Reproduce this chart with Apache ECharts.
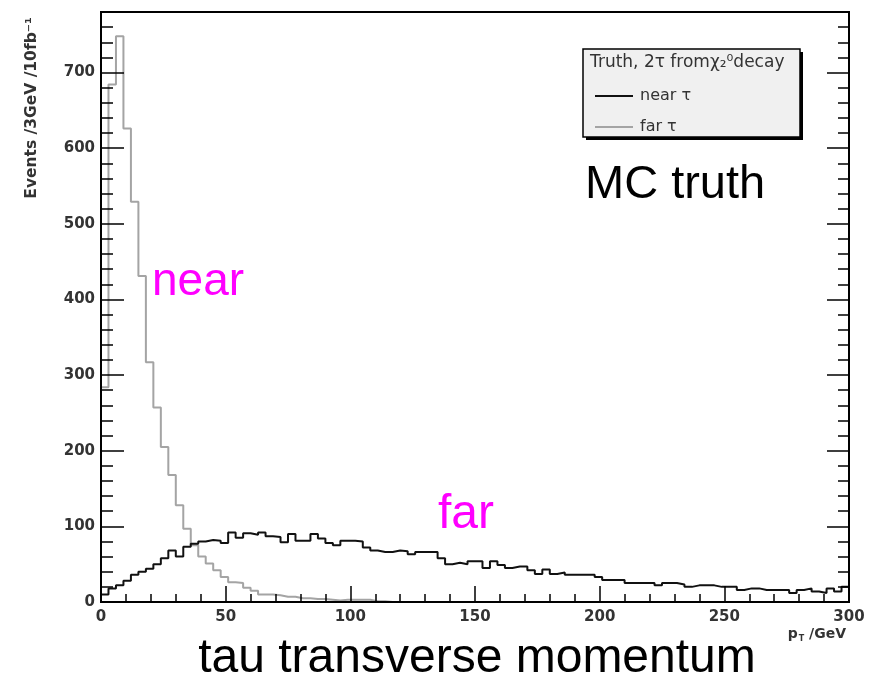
<!DOCTYPE html>
<html>
<head>
<meta charset="utf-8">
<title>tau transverse momentum</title>
<script src="https://cdn.jsdelivr.net/npm/echarts@6/dist/echarts.min.js"></script>
<style>
  html, body { margin: 0; padding: 0; background: #fff; }
  #main { width: 869px; height: 679px; }
</style>
</head>
<body>
<div id="main"></div>
<script>
// 100 bins of 3 GeV, 0 - 300 GeV
const binWidth = 3
// black histogram (legend: near tau)
const nearCounts = [
  10, 18, 22, 28, 36, 40, 44, 50, 58, 68,
  60, 73, 77, 80, 82, 81, 78, 92, 85, 91,
  89, 92, 87, 86, 79, 90, 81, 81, 90, 84,
  78, 75, 81, 81, 80, 72, 68, 66, 66, 68,
  67, 63, 66, 66, 66, 58, 50, 52, 50, 54,
  54, 45, 54, 49, 45, 47, 47, 42, 37, 43,
  37, 39, 36, 36, 36, 36, 33, 29, 29, 29,
  25, 25, 25, 25, 22, 25, 25, 23, 20, 22,
  22, 22, 20, 20, 20, 16, 18, 18, 16, 16,
  16, 16, 12, 16, 18, 14, 12, 18, 14, 20
]
// grey histogram (legend: far tau)
const farCounts = [
  284, 684, 748, 626, 529, 431, 317, 257, 205, 168,
  128, 97, 75, 60, 51, 42, 33, 26, 25, 19,
  15, 10, 10, 9, 7, 7, 5, 5, 4, 4,
  3, 2, 3, 3, 3, 3, 1, 1, 0, 0,
  0, 0, 0, 0, 0, 0, 0, 0, 0, 0,
  0, 0, 0, 0, 0, 0, 0, 0, 0, 0,
  0, 0, 0, 0, 0, 0, 0, 0, 0, 0,
  0, 0, 0, 0, 0, 0, 0, 0, 0, 0,
  0, 0, 0, 0, 0, 0, 0, 0, 0, 0,
  0, 0, 0, 0, 0, 0, 0, 0, 0, 0
]
const seriesNames = ['near τ', 'far τ']

// points at the left bin edges, plus the closing edge
function stepData(counts) {
  let pts = counts.map((v, i) => [i * binWidth, v])
  pts.push([counts.length * binWidth, counts[counts.length - 1]])
  return pts
}

const tickFont = { fontFamily: 'DejaVu Sans', fontWeight: 'bold', fontSize: 15, color: '#333' }
const black = { color: '#000', width: 1.5 }

let chart = echarts.init(document.getElementById('main'), null, { renderer: 'canvas' })

let option = {
  animation: false,
  backgroundColor: '#fff',
  grid: {
    left: 101, right: 20, top: 12, bottom: 77,
    show: true, borderColor: '#000', borderWidth: 2,
    outerBoundsMode: 'none'
  },
  legend: {
    data: seriesNames,
    orient: 'vertical',
    left: 590, top: 83,
    itemWidth: 38, itemHeight: 2, itemGap: 15,
    icon: 'rect',
    selectedMode: false,
    z: 10,
    textStyle: { fontFamily: 'DejaVu Sans', fontSize: 16, color: '#333', padding: [0, 0, 0, 2] }
  },
  xAxis: [{
    type: 'value', min: 0, max: 300, interval: 50, position: 'bottom', z: 5,
    axisLine: { lineStyle: { color: '#000', width: 2 } },
    axisTick: { inside: true, length: 16, lineStyle: black },
    minorTick: { show: true, splitNumber: 5, length: 8, lineStyle: black },
    splitLine: { show: false },
    axisLabel: Object.assign({ margin: 8 }, tickFont)
  }],
  yAxis: [
    { // major ticks + labels
      type: 'value', min: 0, max: 780, interval: 100, position: 'left', z: 5,
      axisLine: { show: true, lineStyle: { color: '#000', width: 2 } },
      axisTick: { inside: true, length: 23, lineStyle: black },
      splitLine: { show: false },
      axisLabel: Object.assign({ margin: 6, showMaxLabel: false }, tickFont)
    },
    { // minor ticks
      type: 'value', min: 0, max: 780, interval: 20, position: 'left', z: 5,
      axisLine: { show: false },
      axisTick: { inside: true, length: 12, lineStyle: black },
      splitLine: { show: false },
      axisLabel: { show: false }
    },
    { // right side ticks
      type: 'value', min: 0, max: 780, interval: 100, position: 'right', z: 5,
      axisLine: { show: true, lineStyle: { color: '#000', width: 2 } },
      axisTick: { inside: true, length: 22, lineStyle: black },
      splitLine: { show: false },
      axisLabel: { show: false }
    },
    {
      type: 'value', min: 0, max: 780, interval: 20, position: 'right', z: 5,
      axisLine: { show: false },
      axisTick: { inside: true, length: 11, lineStyle: black },
      splitLine: { show: false },
      axisLabel: { show: false }
    }
  ],
  series: [
    {
      name: seriesNames[0],
      type: 'line',
      step: 'end',
      showSymbol: false,
      z: 3,
      itemStyle: { color: '#111' },
      lineStyle: { color: '#111', width: 2 },
      data: stepData(nearCounts)
    },
    {
      name: seriesNames[1],
      type: 'line',
      step: 'end',
      showSymbol: false,
      z: 2,
      itemStyle: { color: '#a4a4a4' },
      lineStyle: { color: '#a4a4a4', width: 2 },
      data: stepData(farCounts)
    }
  ],
  graphic: [
    // legend box with shadow
    { type: 'rect', z: 1, shape: { x: 586, y: 52, width: 217, height: 88 }, style: { fill: '#000' } },
    { type: 'rect', z: 2, shape: { x: 583, y: 49, width: 217, height: 88 }, style: { fill: '#f0f0f0', stroke: '#000', lineWidth: 1.5 } },
    { type: 'text', z: 3, x: 590, y: 63, style: { text: 'Truth, 2τ fromχ₂⁰decay', font: '17px "DejaVu Sans"', fill: '#333', verticalAlign: 'middle' } },
    // annotations
    { type: 'text', x: 585, y: 185, style: { text: 'MC truth', font: '47px "Liberation Sans"', fill: '#000', verticalAlign: 'middle' } },
    { type: 'text', x: 152, y: 282, style: { text: 'near', font: '46px "Liberation Sans"', fill: '#ff00ff', verticalAlign: 'middle' } },
    { type: 'text', x: 438, y: 515, style: { text: 'far', font: '48px "Liberation Sans"', fill: '#ff00ff', verticalAlign: 'middle' } },
    { type: 'text', x: 477, y: 659, style: { text: 'tau transverse momentum', font: '48px "Liberation Sans"', fill: '#000', align: 'center', verticalAlign: 'middle' } },
    // axis titles
    {
      type: 'text', x: 846, y: 634,
      style: {
        text: '{p|p}{t|T}{g| /GeV}', align: 'right', verticalAlign: 'middle',
        rich: {
          p: { font: 'bold 14px "DejaVu Sans"', fill: '#333' },
          t: { font: 'bold 8px "DejaVu Sans"', fill: '#333', padding: [10, 0, 0, 1] },
          g: { font: 'bold 14px "DejaVu Sans"', fill: '#333' }
        }
      }
    },
    {
      type: 'text', x: 32, y: 108, rotation: Math.PI / 2,
      style: { text: 'Events /3GeV /10fb⁻¹', font: 'bold 15.5px "DejaVu Sans"', fill: '#333', align: 'center', verticalAlign: 'middle' }
    }
  ]
}

chart.setOption(option)
</script>
</body>
</html>
